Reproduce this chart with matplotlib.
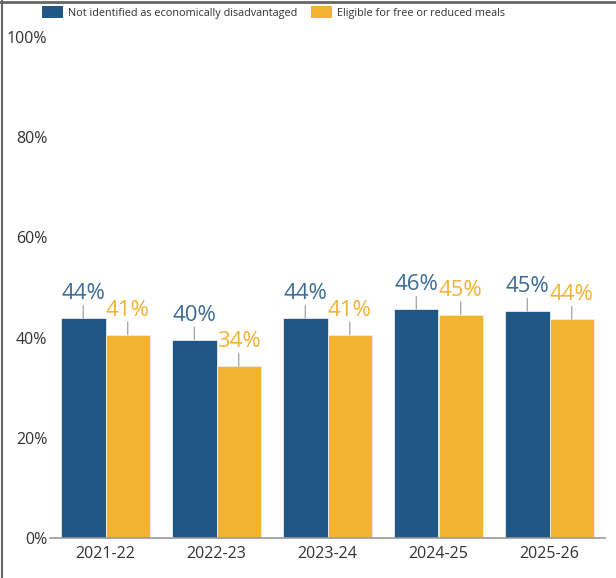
import matplotlib.pyplot as plt
import numpy as np
from matplotlib.lines import Line2D
from matplotlib.patches import Patch

plt.rcParams['font.family'] = ['Open Sans', 'DejaVu Sans']

years = ["2021-22", "2022-23", "2023-24", "2024-25", "2025-26"]
not_disadvantaged = [43.9, 39.6, 43.9, 45.7, 45.3]
free_reduced = [40.6, 34.3, 40.6, 44.6, 43.7]
series_names = ["Not identified as economically disadvantaged",
                "Eligible for free or reduced meals"]

BLUE = "#215784"
ORANGE = "#f3b234"
BLUE_TEXT = "#3d6b97"
ORANGE_TEXT = "#f3b234"

fig = plt.figure(figsize=(6.16, 5.78), dpi=100)
ax = fig.add_axes([50 / 616, 40 / 578, 555 / 616, 501 / 578])

x = np.arange(len(years))
width = 0.4

groups = [
    (not_disadvantaged, -width / 2, BLUE, BLUE_TEXT),
    (free_reduced, width / 2, ORANGE, ORANGE_TEXT),
]

for values, offset, color, text_color in groups:
    ax.bar(x + offset, values, width, color=color,
           edgecolor="#e8eef4", linewidth=0.6)
    for xi, v in zip(x + offset, values):
        # short leader line from the bar top to its value label
        ax.annotate("", xy=(xi, v), xytext=(0, 9), textcoords="offset points",
                    arrowprops=dict(arrowstyle="-", color="#aaaaaa", lw=1,
                                    shrinkA=0, shrinkB=0))
        ax.annotate(f"{round(v)}%", xy=(xi, v), xytext=(0, 10),
                    textcoords="offset points", ha="center", va="bottom",
                    fontsize=16, color=text_color)

ax.set_xlim(-0.5, len(years) - 0.5)
ax.set_ylim(0, 100)
ax.set_yticks(range(0, 101, 20))
ax.set_yticklabels([f"{t}%" for t in range(0, 101, 20)])
ax.set_xticks(x)
ax.set_xticklabels(years)

for side in ["top", "right", "left"]:
    ax.spines[side].set_visible(False)
ax.spines["bottom"].set_color("#999999")
ax.spines["bottom"].set_linewidth(1.2)
ax.tick_params(axis="y", length=0, pad=2, labelsize=11.5, labelcolor="#333333")
ax.tick_params(axis="x", length=0, pad=6, labelsize=11.5, labelcolor="#333333")

handles = [Patch(facecolor=BLUE), Patch(facecolor=ORANGE)]
fig.legend(handles, series_names, loc="upper left",
           bbox_to_anchor=(38 / 616, 1 - 2 / 578), ncol=2, frameon=False,
           fontsize=7.8, handlelength=1.95, handleheight=1.35,
           handletextpad=0.45, columnspacing=1.2, borderaxespad=0,
           labelcolor="#333333")

# frame on the top and left edges
fig.add_artist(Line2D([0, 1], [1 - 1.5 / 578] * 2, color="#666666", lw=2))
fig.add_artist(Line2D([2.5 / 616] * 2, [0, 1], color="#666666", lw=1.5))

fig.savefig("out.png", dpi=100)
